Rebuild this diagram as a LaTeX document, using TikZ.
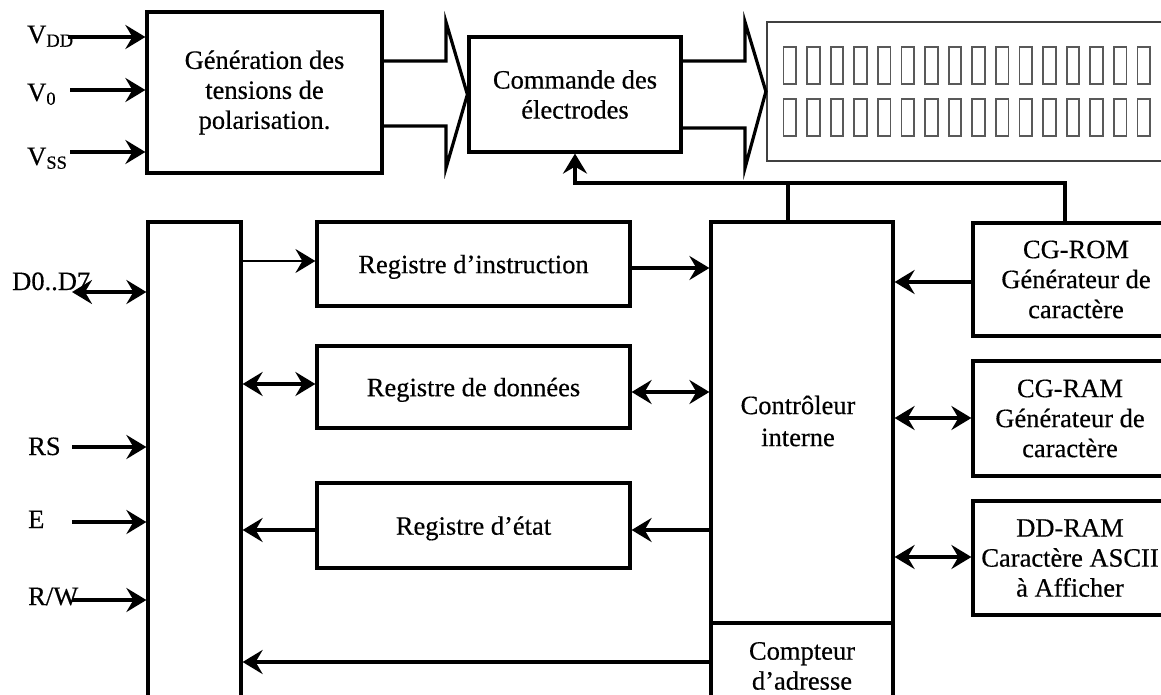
\documentclass[tikz,border=0pt]{standalone}
\usepackage{fontspec}
\setmainfont{Liberation Serif}[FakeBold=0.4]
\usetikzlibrary{arrows.meta}
\begin{document}
\begin{tikzpicture}[x=1pt,y=-1pt,
  >={Stealth[length=20pt,width=24pt,inset=7pt]},
  every node/.style={font=\fontsize{26.5}{30}\selectfont},
  blk/.style={draw, line width=3.2pt, inner sep=0pt, align=center},
  wire/.style={line width=3.2pt},
  thinwire/.style={line width=1.6pt},
  lbl/.style={anchor=base west, inner sep=0pt},
  txt/.style={inner sep=0pt, align=center},
  lcdline/.style={draw=black!75, line width=2.2pt},
  charbox/.style={draw=black!65, line width=1.8pt}
]
\useasboundingbox (0,0) rectangle (1161,695);
\fill[white] (0,0) rectangle (1161,695);

% ---- blocks ----
\node[blk, minimum width=235pt, minimum height=161pt] (gen) at (264.5,92.5)
  {Génération des\\tensions de\\polarisation.};
\node[blk, minimum width=212pt, minimum height=115pt] (cmd) at (575,94.5)
  {Commande des\\électrodes};
\node[lcdline, inner sep=0pt, minimum width=413pt, minimum height=139pt] (lcd) at (973.5,91.5) {};
\foreach \i in {0,...,15}{
  \draw[charbox] (783.5+\i*23.6,47) rectangle ++(12.5,37);
  \draw[charbox] (783.5+\i*23.6,99) rectangle ++(12.5,37);
}

\node[blk, minimum width=93pt, minimum height=500pt] (mpu) at (194.5,472) {};
\node[blk, minimum width=313pt, minimum height=84pt, text depth=0pt] (ri) at (473.5,264) {Registre d’instruction};
\node[blk, minimum width=313pt, minimum height=82pt, text depth=0pt] (rd) at (473.5,387) {Registre de données};
\node[blk, minimum width=313pt, minimum height=85pt, text depth=0pt] (re) at (473.5,525.5) {Registre d’état};
\node[blk, minimum width=182pt, minimum height=401pt] (ctrl) at (802,422.5) {};
\node[txt] (ctrlt) at (798,421) {Contrôleur\\[2pt]interne};
\node[blk, minimum width=182pt, minimum height=86pt] (cpt) at (802,666) {Compteur\\d’adresse};
\node[blk, minimum width=206pt, minimum height=113pt] (cgrom) at (1076,279.5) {CG-ROM\\Générateur de\\caractère};
\node[blk, minimum width=194pt, minimum height=115pt] (cgram) at (1070,418.5) {CG-RAM\\Générateur de\\caractère};
\node[blk, minimum width=194pt, minimum height=114pt] (ddram) at (1070,558) {DD-RAM\\Caractère ASCII\\à Afficher};

% ---- big bus arrows ----
\draw[wire, line join=miter] (gen.east |- 0,61) -- (446,61) -- (446,22) -- (cmd.west) -- (446,168) -- (446,126) -- (gen.east |- 0,126);
\draw[wire, line join=miter] (cmd.east |- 0,61) -- (745,61) -- (745,22) -- (lcd.west) -- (745,168) -- (745,128) -- (cmd.east |- 0,128);

% ---- input labels ----
\node[lbl] (lvdd) at (27,43) {V\textsubscript{DD}};
\node[lbl] (lv0) at (27,101) {V\textsubscript{0}};
\node[lbl] (lvss) at (27,165) {V\textsubscript{SS}};
\node[lbl] (ld) at (12,290) {D0..D7};
\node[lbl] (lrs) at (28,455) {RS};
\node[lbl] (le) at (28,528) {E};
\node[lbl] (lrw) at (28,605) {R/W};

\coordinate (pvdd) at (68,37);
\coordinate (pv0) at (70,90);
\coordinate (pvss) at (70,152);
\coordinate (pd) at (72,292);
\coordinate (prs) at (72,447);
\coordinate (pe) at (72,522);
\coordinate (prw) at (72,600);
\draw[wire,->] (pvdd) -- (pvdd -| gen.west);
\draw[wire,->] (pv0) -- (pv0 -| gen.west);
\draw[wire,->] (pvss) -- (pvss -| gen.west);
\draw[wire,<->] (pd) -- (pd -| mpu.west);
\draw[wire,->] (prs) -- (prs -| mpu.west);
\draw[wire,->] (pe) -- (pe -| mpu.west);
\draw[wire,->] (prw) -- (prw -| mpu.west);

% ---- internal connectors ----
\coordinate (y1) at (0,261);
\coordinate (y2) at (0,268);
\coordinate (y3) at (0,384);
\coordinate (y4) at (0,392);
\coordinate (y5) at (0,530);
\coordinate (y6) at (0,662);
\coordinate (y7) at (0,282);
\coordinate (y8) at (0,418);
\coordinate (y9) at (0,557);
\draw[thinwire,->] (y1 -| mpu.east) -- (y1 -| ri.west);
\draw[wire,->] (y2 -| ri.east) -- (y2 -| ctrl.west);
\draw[wire,<->] (y3 -| mpu.east) -- (y3 -| rd.west);
\draw[wire,<->] (y4 -| rd.east) -- (y4 -| ctrl.west);
\draw[wire,->] (y5 -| re.west) -- (y5 -| mpu.east);
\draw[wire,->] (y5 -| ctrl.west) -- (y5 -| re.east);
\draw[wire,->] (y6 -| cpt.west) -- (y6 -| mpu.east);
\draw[wire,->] (y7 -| cgrom.west) -- (y7 -| ctrl.east);
\draw[wire,<->] (y8 -| ctrl.east) -- (y8 -| cgram.west);
\draw[wire,<->] (y9 -| ctrl.east) -- (y9 -| ddram.west);

% ---- feedback to electrodes ----
\coordinate (fbR) at (1065,183);
\coordinate (fbM) at (788,183);
\coordinate (fbL) at (cmd.south |- fbR);
\draw[wire,->] (fbR |- cgrom.north) -- (fbR) -- (fbL) -- (cmd.south);
\draw[wire] (fbM |- ctrl.north) -- (fbM);
\end{tikzpicture}
\end{document}
